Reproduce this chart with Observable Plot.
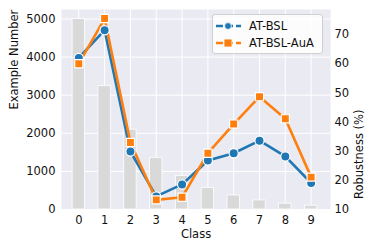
<!DOCTYPE html>
<html>
<head>
<meta charset="utf-8">
<script src="https://cdn.jsdelivr.net/npm/d3@7"></script>
<script src="https://cdn.jsdelivr.net/npm/@observablehq/plot@0.6"></script>
<style>
  body { margin: 0; background: #fff; }
  #wrap { position: relative; width: 374px; height: 250px; font-family: "DejaVu Sans", sans-serif; }
  #legend { position: absolute; left: 212px; top: 14px; width: 109px; height: 38px; background: rgba(255,255,255,0.85);
    border: 1px solid #d0d0d0; border-radius: 3px; font-size: 11.5px; color: #111; }
  .row { position: absolute; left: 2px; height: 14px; display: flex; align-items: center; }
  .row svg { margin-right: 8px; }
</style>
</head>
<body>
<div id="wrap"></div>
<script>
const classes = [0, 1, 2, 3, 4, 5, 6, 7, 8, 9];
const exampleNumber = [5000, 3237, 2096, 1357, 878, 568, 368, 238, 154, 100];
const robBSL = [62.0, 71.5, 29.9, 14.5, 18.6, 26.8, 29.3, 33.6, 28.2, 19.1];
const robAuA = [60.0, 75.5, 33.0, 13.3, 14.2, 29.3, 39.3, 48.7, 41.1, 21.1];
const leftTicks = [0, 1000, 2000, 3000, 4000, 5000];
const rightTicks = [10, 20, 30, 40, 50, 60, 70];
const seriesNames = ["AT-BSL", "AT-BSL-AuA"];
const colors = ["#1f77b4", "#ff7f0e"];

const countMax = 5250;
const robMin = 10, robMax = 78.6;
const toCount = r => (r - robMin) / (robMax - robMin) * countMax;
const toRob = c => robMin + c / countMax * (robMax - robMin);

const bars = classes.map((c, i) => ({c, n: exampleNumber[i]}));
const lineData = [
  ...classes.map((c, i) => ({c, s: seriesNames[0], v: toCount(robBSL[i])})),
  ...classes.map((c, i) => ({c, s: seriesNames[1], v: toCount(robAuA[i])}))
];
const bsl = lineData.filter(d => d.s === seriesNames[0]);
const aua = lineData.filter(d => d.s === seriesNames[1]);

const chart = Plot.plot({
  width: 374,
  height: 250,
  marginLeft: 61,
  marginRight: 44,
  marginTop: 9,
  marginBottom: 41,
  style: {fontFamily: "DejaVu Sans, sans-serif", fontSize: "11.5px", color: "#111", background: "#fff"},
  x: {domain: [-0.67, 9.75]},
  y: {domain: [0, countMax]},
  marks: [
    Plot.frame({fill: "#eaeaf2", stroke: null}),
    Plot.gridY(leftTicks, {stroke: "#fff", strokeOpacity: 1, strokeWidth: 1}),
    Plot.gridX(classes, {stroke: "#fff", strokeOpacity: 1, strokeWidth: 1}),
    Plot.rectY(bars, {x1: d => d.c - 0.24, x2: d => d.c + 0.24, y1: 0, y2: "n", fill: "#d9d9d9", stroke: "#fff", strokeWidth: 0.8}),
    Plot.line(bsl, {x: "c", y: "v", stroke: colors[0], strokeWidth: 2.6}),
    Plot.line(aua, {x: "c", y: "v", stroke: colors[1], strokeWidth: 2.6}),
    Plot.dot(bsl, {x: "c", y: "v", r: 4.6, fill: colors[0], stroke: "#fff", strokeWidth: 1.2}),
    Plot.dot(aua, {x: "c", y: "v", r: 4.6, symbol: "square", fill: colors[1], stroke: "#fff", strokeWidth: 1.2}),
    Plot.axisY(leftTicks, {anchor: "left", tickSize: 0, tickPadding: 6, label: null, tickFormat: d => String(d), fontSize: 11.5}),
    Plot.axisY(rightTicks.map(toCount), {anchor: "right", tickSize: 0, tickPadding: 4, label: null, tickFormat: d => String(Math.round(toRob(d))), fontSize: 11.5}),
    Plot.axisX(classes, {tickSize: 0, tickPadding: 6, label: null, tickFormat: d => String(d), fontSize: 11.5}),
    Plot.text(["Class"], {frameAnchor: "bottom", dy: 28, fontSize: 11.5, fill: "#111"}),
    Plot.text(["Example Number"], {frameAnchor: "left", dx: -47, rotate: -90, fontSize: 11.5, fill: "#111"}),
    Plot.text(["Robustness (%)"], {frameAnchor: "right", dx: 29, rotate: -90, fontSize: 11.5, fill: "#111"})
  ]
});
const wrap = document.getElementById("wrap");
wrap.appendChild(chart);

const legend = document.createElement("div");
legend.id = "legend";
seriesNames.forEach((name, i) => {
  const row = document.createElement("div");
  row.className = "row";
  row.style.top = (4 + i * 17) + "px";
  const marker = i === 0
    ? `<circle cx="13" cy="7" r="3.4" fill="${colors[i]}" stroke="#fff" stroke-width="0.8"/>`
    : `<rect x="9" y="3" width="8" height="8" fill="${colors[i]}" stroke="#fff" stroke-width="0.8"/>`;
  row.innerHTML = `<svg width="26" height="14"><line x1="1" y1="7" x2="26" y2="7" stroke="${colors[i]}" stroke-width="2.4" stroke-dasharray="7,3"/>${marker}</svg><span>${name}</span>`;
  legend.appendChild(row);
});
wrap.appendChild(legend);
</script>
</body>
</html>
